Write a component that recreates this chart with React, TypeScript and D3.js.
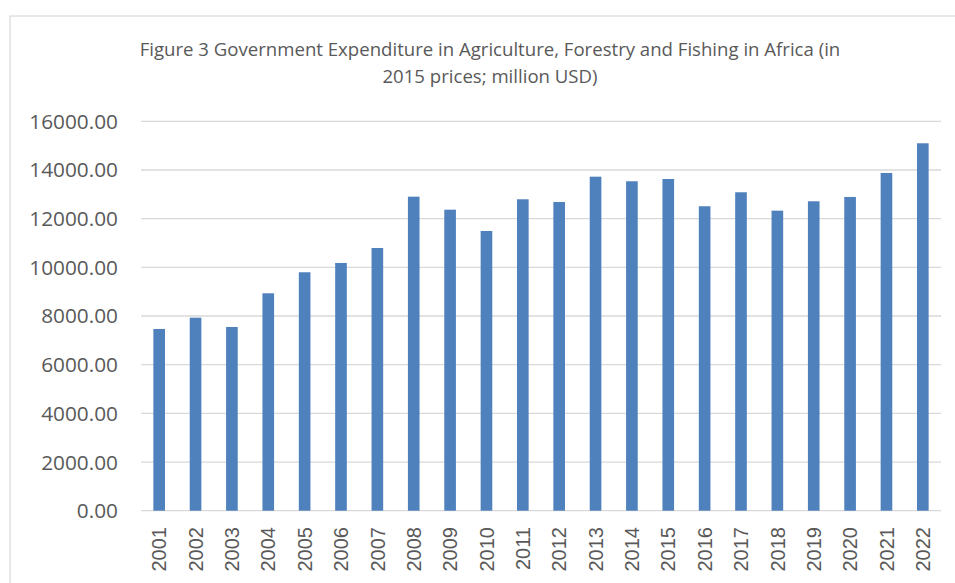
import React from "react";
import * as d3 from "d3";

const years = ["2001","2002","2003","2004","2005","2006","2007","2008","2009","2010","2011","2012","2013","2014","2015","2016","2017","2018","2019","2020","2021","2022"];
const values = [7467, 7931, 7549, 8933, 9797, 10179, 10795, 12903, 12369, 11494, 12796, 12685, 13725, 13536, 13630, 12509, 13084, 12328, 12714, 12891, 13877, 15097];
const yTicks = [0, 2000, 4000, 6000, 8000, 10000, 12000, 14000, 16000];
const titleLines = [
  "Figure 3 Government Expenditure in Agriculture, Forestry and Fishing in Africa (in",
  "2015 prices; million USD)",
];

const W = 955, H = 583;
const left = 141, right = 941, top = 121.3, bottom = 510.7;
const font = "'Open Sans', 'Liberation Sans', sans-serif";

export default function App() {
  const x = d3.scaleBand<string>().domain(years).range([left, right]).paddingInner(0.68).paddingOuter(0.34);
  const y = d3.scaleLinear().domain([0, 16000]).range([bottom, top]);
  return (
    <svg width={W} height={H} style={{ position: "absolute", left: 0, top: 0, background: "#fff" }}>
      <rect x={0} y={0} width={W} height={H} fill="#fff" />
      <rect x={10} y={16} width={W + 20} height={H + 20} fill="none" stroke="#d9d9d9" strokeWidth={1.2} />
      {titleLines.map((t, i) => (
        <text key={i} x={490} y={56 + i * 27} textAnchor="middle" fontFamily={font} fontSize={18.6} fill="#595959">{t}</text>
      ))}
      {yTicks.map((v) => (
        <g key={v}>
          <line x1={left} x2={right} y1={y(v)} y2={y(v)} stroke="#d9d9d9" strokeWidth={1.3} />
          <text x={118} y={y(v)} dy="0.36em" textAnchor="end" fontFamily={font} fontSize={20.8} fill="#595959">{v.toFixed(2)}</text>
        </g>
      ))}
      {years.map((yr, i) => (
        <rect key={yr} x={x(yr)} y={y(values[i])} width={x.bandwidth()} height={y(0) - y(values[i])} fill="#4f81bd" />
      ))}
      {years.map((yr) => {
        const cx = (x(yr) as number) + x.bandwidth() / 2;
        return (
          <text key={yr} transform={`translate(${cx},527) rotate(-90)`} dy="0.36em" textAnchor="end" fontFamily="'Liberation Sans', Arial, sans-serif" fontSize={20} fill="#595959">{yr}</text>
        );
      })}
    </svg>
  );
}
